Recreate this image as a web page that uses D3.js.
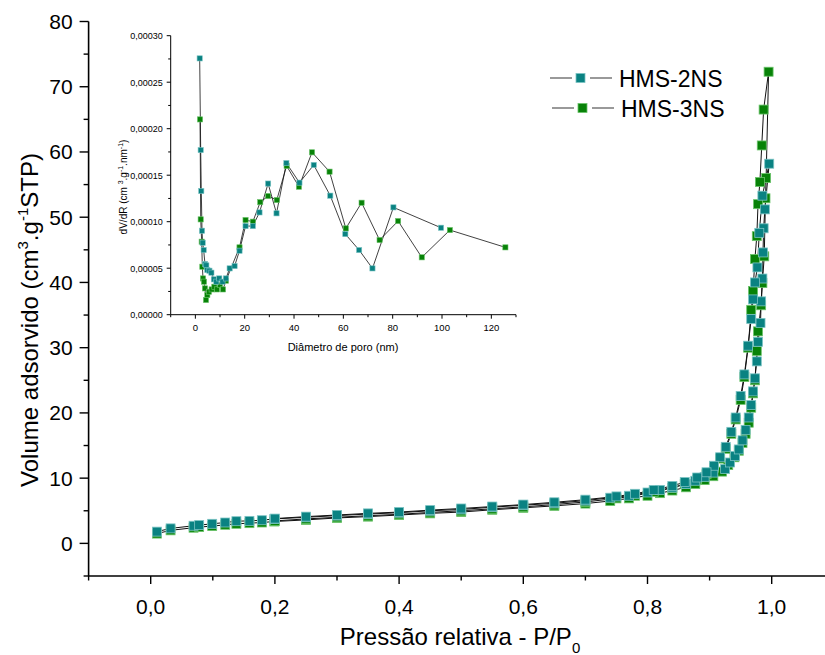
<!DOCTYPE html>
<html><head><meta charset="utf-8">
<script src="https://cdn.jsdelivr.net/npm/d3@7"></script>
<style>body{margin:0;background:#fff} svg{display:block;font-family:"Liberation Sans",Arial,sans-serif}</style>
</head><body>
<svg id="c" width="825" height="655"></svg>
<script>
// ---------- DATA ----------
const seriesNames = ["HMS-2NS", "HMS-3NS"];
const seriesColors = ["#0a8282", "#088208"];
const seriesEdges = ["#7cc4c4", "#6cc46c"];

// Main isotherm (relative pressure P/P0, adsorbed volume)
const hms2P = [0.010,0.032,0.069,0.078,0.099,0.120,0.138,0.159,0.179,0.199,0.250,0.300,0.350,0.400,0.450,0.500,0.550,0.600,0.650,0.700,0.740,0.770,0.800,0.820,0.840,0.862,0.877,0.892,0.906,0.925,0.933,0.941,0.947,0.953,0.958,0.963,0.967,0.970,0.973,0.976,0.978,0.982,0.983,0.985,0.986,0.987,0.989,0.996,
  0.985,0.980,0.977,0.973,0.970,0.967,0.962,0.956,0.950,0.942,0.935,0.926,0.917,0.907,0.895,0.880,0.860,0.840,0.810,0.780,0.750,0.700,0.650,0.600,0.550,0.500,0.450,0.400,0.350,0.300,0.250,0.200];
const hms2V = [1.8,2.3,2.7,2.8,3.0,3.2,3.4,3.45,3.55,3.75,4.0,4.26,4.5,4.7,5.0,5.2,5.55,5.85,6.15,6.55,7.0,7.3,7.8,8.2,8.55,9.1,9.6,10.2,10.85,11.4,12.4,13.4,14.4,15.8,17.4,19.3,21.2,23.3,25.3,27.9,30.9,33.8,37.1,40.6,44.6,48.3,51.2,58.2,
  53.3,47.6,42.3,40.0,37.4,34.4,30.3,25.9,22.6,19.3,17.1,14.8,13.2,11.9,10.9,10.1,9.4,8.8,8.2,7.6,7.2,6.7,6.3,5.95,5.65,5.35,5.1,4.8,4.6,4.35,4.1,3.8];
const hms3P = [0.010,0.032,0.069,0.078,0.099,0.120,0.138,0.159,0.179,0.199,0.250,0.300,0.350,0.400,0.450,0.500,0.550,0.600,0.650,0.700,0.740,0.770,0.800,0.820,0.840,0.862,0.877,0.892,0.906,0.920,0.930,0.940,0.947,0.953,0.958,0.963,0.967,0.970,0.973,0.976,0.978,0.983,0.985,0.988,0.990,0.991,0.995,
  0.987,0.984,0.981,0.978,0.976,0.973,0.970,0.967,0.962,0.956,0.950,0.942,0.935,0.926,0.917,0.907,0.895,0.880,0.860,0.840,0.810,0.780,0.750,0.700,0.650,0.600,0.550,0.500,0.450,0.400,0.350,0.300,0.250,0.200];
const hms3V = [1.5,2.0,2.4,2.5,2.65,2.85,3.0,3.1,3.2,3.35,3.6,3.9,4.1,4.35,4.6,4.8,5.15,5.45,5.75,6.1,6.5,6.9,7.3,7.7,8.1,8.6,9.1,9.7,10.3,11.0,12.0,13.2,14.2,15.4,16.8,18.5,20.8,23.0,25.0,29.5,32.5,36.5,39.9,44.0,52.9,56.0,72.3,
  66.5,61.0,55.4,52.0,47.1,43.6,38.7,35.8,30.0,25.5,22.0,19.0,16.8,14.5,13.0,11.6,10.6,9.8,9.1,8.5,7.9,7.3,6.9,6.35,5.95,5.6,5.3,5.0,4.75,4.45,4.25,4.0,3.75,3.45];

// Inset: pore size distribution (diameter nm, dV/dR)
const psd2D = [1.75,2.16,2.4,2.7,2.96,3.37,3.9,4.45,4.85,5.7,6.5,7.5,8.5,9.7,11.0,12.4,13.9,15.9,17.9,20.35,23.3,26.0,29.5,32.9,36.9,42.2,48.0,54.7,60.8,66.4,71.8,80.3,99.6];
const psd2V = [0.0002756,0.000177,0.000133,0.0000903,0.0000774,0.0000695,0.0000545,0.000053,0.000048,0.0000473,0.0000452,0.000038,0.0000355,0.000039,0.0000355,0.000039,0.0000498,0.0000523,0.0000688,0.0000953,0.0000953,0.000110,0.000141,0.000109,0.000163,0.000142,0.000161,0.000128,0.0000867,0.0000695,0.0000498,0.0001154,0.0000935];
const psd3D = [1.9,2.16,2.56,2.83,3.1,3.5,3.9,4.3,4.85,5.5,6.6,7.7,8.76,10.0,11.2,12.4,17.9,20.35,23.3,26.3,29.5,33.0,37.0,42.0,47.3,54.4,61.0,67.4,74.7,82.2,91.8,103.2,125.7];
const psd3V = [0.00021,0.0001025,0.0000785,0.0000516,0.000039,0.0000355,0.0000283,0.0000158,0.0000211,0.0000247,0.0000272,0.0000301,0.0000272,0.0000319,0.0000272,0.0000366,0.0000724,0.0001018,0.0001,0.000121,0.0001276,0.0001233,0.00016,0.0001376,0.0001746,0.0001538,0.0000928,0.0001204,0.0000803,0.0001007,0.0000617,0.000091,0.0000724];

// Tick labels
const mainXTicks = [0, 0.2, 0.4, 0.6, 0.8, 1.0];
const mainYTicks = [0, 10, 20, 30, 40, 50, 60, 70, 80];
const insetXTicks = [0, 20, 40, 60, 80, 100, 120];
const insetYTicks = [0, 0.00005, 0.0001, 0.00015, 0.0002, 0.00025, 0.0003];

// ---------- DRAW ----------
const svg = d3.select("#c");
const comma = v => v.toFixed(1).replace(".", ",");
const comma5 = v => v.toFixed(5).replace(".", ",");

// Main scales
const x = d3.scaleLinear().domain([-0.1, 1.1]).range([88.6, 833.8]);
const y = d3.scaleLinear().domain([-5, 80]).range([576, 21.5]);

function minorTicks(lo, hi, step) { const a = []; for (let v = lo; v <= hi + 1e-9; v += step) a.push(+v.toFixed(8)); return a; }

// main axes
const gx = svg.append("g").attr("transform", `translate(0,${y(-5)})`);
gx.append("line").attr("x1", x(-0.1)).attr("x2", 825).attr("stroke", "#000").attr("stroke-width", 1.6);
gx.selectAll(".mj").data(mainXTicks).join("line").attr("x1", d => x(d)).attr("x2", d => x(d)).attr("y1", 0).attr("y2", 8).attr("stroke", "#000").attr("stroke-width", 1.4);
gx.selectAll(".mn").data(minorTicks(-0.1, 1.1, 0.2)).join("line").attr("x1", d => x(d)).attr("x2", d => x(d)).attr("y1", 0).attr("y2", 4.5).attr("stroke", "#000").attr("stroke-width", 1.4);
gx.selectAll("text").data(mainXTicks).join("text").attr("x", d => x(d)).attr("y", 38).attr("text-anchor", "middle").attr("font-size", 21).text(comma);

const gy = svg.append("g").attr("transform", `translate(${x(-0.1)},0)`);
gy.append("line").attr("y1", y(-5)).attr("y2", y(80)).attr("stroke", "#000").attr("stroke-width", 1.6);
gy.selectAll(".mj").data(mainYTicks).join("line").attr("x1", -9).attr("x2", 0).attr("y1", d => y(d)).attr("y2", d => y(d)).attr("stroke", "#000").attr("stroke-width", 1.4);
gy.selectAll(".mn").data(minorTicks(-5, 75, 10)).join("line").attr("x1", -5).attr("x2", 0).attr("y1", d => y(d)).attr("y2", d => y(d)).attr("stroke", "#000").attr("stroke-width", 1.4);
gy.selectAll("text").data(mainYTicks).join("text").attr("x", -16).attr("y", d => y(d) + 7.5).attr("text-anchor", "end").attr("font-size", 21).text(d => d);

// axis titles
const xt = svg.append("text").attr("x", 460).attr("y", 645).attr("text-anchor", "middle").attr("font-size", 24);
xt.append("tspan").text("Pressão relativa - P/P");
xt.append("tspan").attr("font-size", 15).attr("dy", 8).text("0");

const yt = svg.append("text").attr("transform", "translate(38,320) rotate(-90)").attr("text-anchor", "middle").attr("font-size", 24);
yt.append("tspan").text("Volume adsorvido (cm");
yt.append("tspan").attr("font-size", 15).attr("dy", -10).text("3");
yt.append("tspan").attr("dy", 10).text(".g");
yt.append("tspan").attr("font-size", 15).attr("dy", -10).text("-1");
yt.append("tspan").attr("dy", 10).text("STP)");

// main series
const mainSeries = [
  {name: seriesNames[0], P: hms2P, V: hms2V, c: seriesColors[0], e: seriesEdges[0]},
  {name: seriesNames[1], P: hms3P, V: hms3V, c: seriesColors[1], e: seriesEdges[1]}
];
const drawOrder = [mainSeries[1], mainSeries[0]];
const line = d3.line().x(d => x(d[0])).y(d => y(d[1]));
drawOrder.forEach(s => {
  const pts = s.P.map((p, i) => [p, s.V[i]]);
  svg.append("path").attr("d", line(pts)).attr("fill", "none").attr("stroke", "#111").attr("stroke-width", 1);
});
drawOrder.forEach(s => {
  const pts = s.P.map((p, i) => [p, s.V[i]]);
  svg.append("g").selectAll("rect").data(pts).join("rect")
    .attr("x", d => x(d[0]) - 4.5).attr("y", d => y(d[1]) - 4.5).attr("width", 9).attr("height", 9)
    .attr("fill", s.c).attr("stroke", s.e).attr("stroke-width", 0.8);
});

// legend
const lg = svg.append("g");
mainSeries.forEach((s, i) => {
  const yy = 78 + i * 30;
  const x0 = 550 + i * 2;
  lg.append("line").attr("x1", x0).attr("x2", x0 + 22).attr("y1", yy).attr("y2", yy).attr("stroke", "#555").attr("stroke-width", 1.2);
  lg.append("line").attr("x1", x0 + 40).attr("x2", x0 + 62).attr("y1", yy).attr("y2", yy).attr("stroke", "#555").attr("stroke-width", 1.2);
  lg.append("rect").attr("x", x0 + 26).attr("y", yy - 4.5).attr("width", 9).attr("height", 9).attr("fill", s.c).attr("stroke", s.e).attr("stroke-width", 0.8);
  lg.append("text").attr("x", x0 + 69).attr("y", yy + 8.5).attr("font-size", 23).text(s.name);
});

// ---------- INSET ----------
const ix = d3.scaleLinear().domain([-10, 130]).range([170.7, 516]);
const iy = d3.scaleLinear().domain([0, 0.0003]).range([314.7, 35.7]);

const igx = svg.append("g").attr("transform", `translate(0,${iy(0)})`);
igx.append("line").attr("x1", ix(-10)).attr("x2", ix(130)).attr("stroke", "#000").attr("stroke-width", 1);
igx.selectAll(".mj").data(insetXTicks).join("line").attr("x1", d => ix(d)).attr("x2", d => ix(d)).attr("y1", 0).attr("y2", 4).attr("stroke", "#000").attr("stroke-width", 1);
igx.selectAll(".mn").data(minorTicks(-10, 130, 20)).join("line").attr("x1", d => ix(d)).attr("x2", d => ix(d)).attr("y1", 0).attr("y2", 2.5).attr("stroke", "#000").attr("stroke-width", 1);
igx.selectAll("text").data(insetXTicks).join("text").attr("x", d => ix(d)).attr("y", 16).attr("text-anchor", "middle").attr("font-size", 9.5).text(d => d);

const igy = svg.append("g").attr("transform", `translate(${ix(-10)},0)`);
igy.append("line").attr("y1", iy(0)).attr("y2", iy(0.0003)).attr("stroke", "#000").attr("stroke-width", 1);
igy.selectAll(".mj").data(insetYTicks).join("line").attr("x1", -4).attr("x2", 0).attr("y1", d => iy(d)).attr("y2", d => iy(d)).attr("stroke", "#000").attr("stroke-width", 1);
igy.selectAll(".mn").data(minorTicks(0.000025, 0.000275, 0.00005)).join("line").attr("x1", -2.5).attr("x2", 0).attr("y1", d => iy(d)).attr("y2", d => iy(d)).attr("stroke", "#000").attr("stroke-width", 1);
igy.selectAll("text").data(insetYTicks).join("text").attr("x", -8).attr("y", d => iy(d) + 3.3).attr("text-anchor", "end").attr("font-size", 9).text(comma5);

svg.append("text").attr("x", 343).attr("y", 351).attr("text-anchor", "middle").attr("font-size", 11).text("Diâmetro de poro (nm)");
const iyt = svg.append("text").attr("transform", "translate(127,187) rotate(-90)").attr("text-anchor", "middle").attr("font-size", 10);
iyt.append("tspan").text("dV/dR (cm ");
iyt.append("tspan").attr("font-size", 7).attr("dy", -4).text("3");
iyt.append("tspan").attr("dy", 4).text(".g");
iyt.append("tspan").attr("font-size", 7).attr("dy", -4).text("-1");
iyt.append("tspan").attr("dy", 4).text(".nm");
iyt.append("tspan").attr("font-size", 7).attr("dy", -4).text("-1");
iyt.append("tspan").attr("dy", 4).text(")");

const insetSeries = [
  {D: psd3D, V: psd3V, c: seriesColors[1], e: seriesEdges[1]},
  {D: psd2D, V: psd2V, c: seriesColors[0], e: seriesEdges[0]}
];
const iline = d3.line().x(d => ix(d[0])).y(d => iy(d[1]));
insetSeries.forEach(s => {
  const pts = s.D.map((d, i) => [d, s.V[i]]);
  svg.append("path").attr("d", iline(pts)).attr("fill", "none").attr("stroke", "#111").attr("stroke-width", 0.8);
});
insetSeries.forEach(s => {
  const pts = s.D.map((d, i) => [d, s.V[i]]);
  svg.append("g").selectAll("rect").data(pts).join("rect")
    .attr("x", d => ix(d[0]) - 2.6).attr("y", d => iy(d[1]) - 2.6).attr("width", 5.2).attr("height", 5.2)
    .attr("fill", s.c).attr("stroke", s.e).attr("stroke-width", 0.6);
});
</script>
</body></html>
